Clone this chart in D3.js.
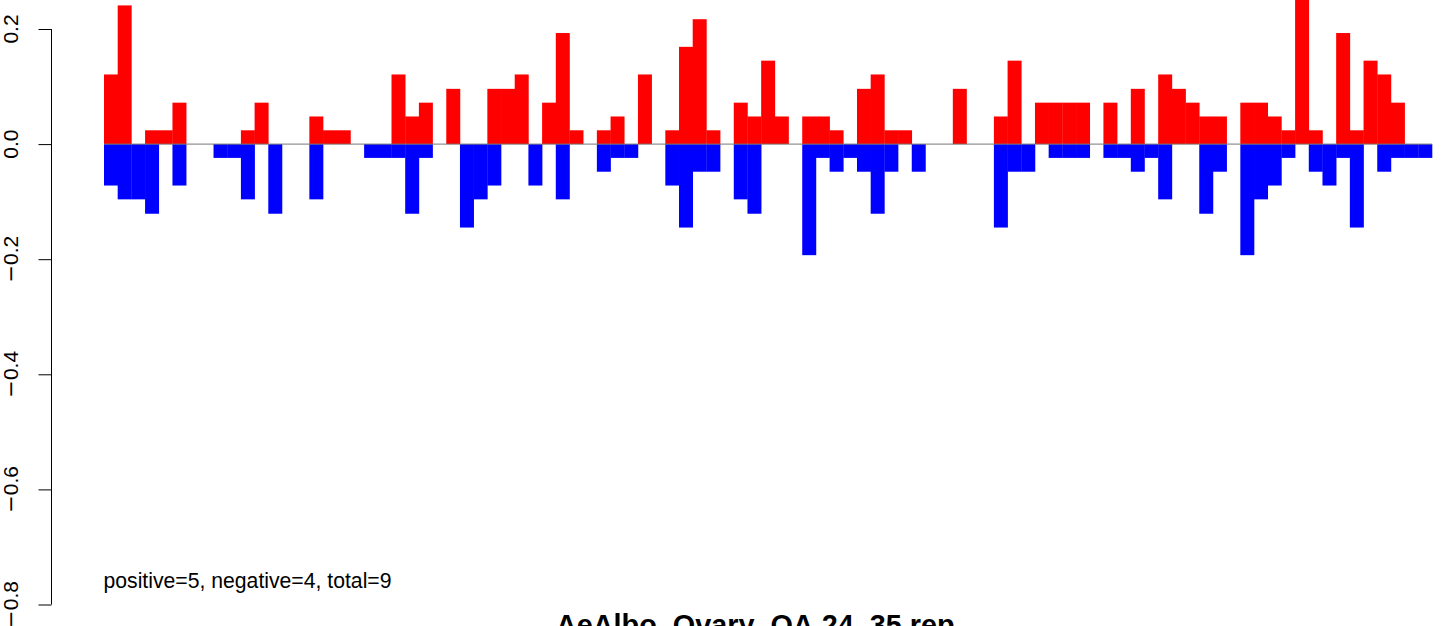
<!DOCTYPE html>
<html>
<head>
<meta charset="utf-8">
<script src="https://cdn.jsdelivr.net/npm/d3@7"></script>
<style>
  html, body { margin: 0; padding: 0; background: #fff; }
  svg { display: block; }
  text { font-family: "Liberation Sans", Arial, Helvetica, sans-serif; }
</style>
</head>
<body>
<svg id="chart" width="1441" height="626"></svg>
<script>
// positions 1..97
const positions = d3.range(1, 98);
// positive (red) values per position
const positiveValues = [
  0.121, 0.241, 0, 0.024, 0.024, 0.072, 0, 0, 0, 0,
  0.024, 0.072, 0, 0, 0, 0.048, 0.024, 0.024, 0, 0,
  0, 0.121, 0.048, 0.072, 0, 0.096, 0, 0, 0.096, 0.096,
  0.121, 0, 0.072, 0.193, 0.024, 0, 0.024, 0.048, 0, 0.121,
  0, 0.024, 0.169, 0.217, 0.024, 0, 0.072, 0.048, 0.145, 0.048,
  0, 0.048, 0.048, 0.024, 0, 0.096, 0.121, 0.024, 0.024, 0,
  0, 0, 0.096, 0, 0, 0.048, 0.145, 0, 0.072, 0.072,
  0.072, 0.072, 0, 0.072, 0, 0.096, 0, 0.121, 0.096, 0.072,
  0.048, 0.048, 0, 0.072, 0.072, 0.048, 0.024, 0.265, 0.024, 0,
  0.193, 0.024, 0.145, 0.121, 0.072, 0, 0
];
// negative (blue) values per position
const negativeValues = [
  -0.072, -0.096, -0.096, -0.121, 0, -0.072, 0, 0, -0.024, -0.024,
  -0.096, 0, -0.121, 0, 0, -0.096, 0, 0, 0, -0.024,
  -0.024, -0.024, -0.121, -0.024, 0, 0, -0.145, -0.096, -0.072, 0,
  0, -0.072, 0, -0.096, 0, 0, -0.048, -0.024, -0.024, 0,
  0, -0.072, -0.145, -0.048, -0.048, 0, -0.096, -0.121, 0, 0,
  0, -0.193, -0.024, -0.048, -0.024, -0.048, -0.121, -0.048, 0, -0.048,
  0, 0, 0, 0, 0, -0.145, -0.048, -0.048, 0, -0.024,
  -0.024, -0.024, 0, -0.024, -0.024, -0.048, -0.024, -0.096, 0, 0,
  -0.121, -0.048, 0, -0.193, -0.096, -0.072, -0.024, 0, -0.048, -0.072,
  -0.024, -0.145, 0, -0.048, -0.024, -0.024, -0.024
];
const yTicks = [-0.8, -0.6, -0.4, -0.2, 0.0, 0.2];
const yTickLabels = ["\u22120.8", "\u22120.6", "\u22120.4", "\u22120.2", "0.0", "0.2"];
const titleText = "AeAlbo_Ovary_OA.24_35.rep";
const countsText = "positive=5, negative=4, total=9";

const svg = d3.select("#chart");

const x = d3.scaleBand().domain(positions).range([104, 1432]).padding(0);
const y = d3.scaleLinear().domain([-0.8, 0.2]).range([604.5, 29]);

// positive bars
svg.append("g").selectAll("rect")
  .data(positions.map((p, i) => ({p, v: positiveValues[i]})).filter(d => d.v > 0))
  .join("rect")
  .attr("x", d => x(d.p))
  .attr("width", x.bandwidth() + 0.3)
  .attr("y", d => y(d.v))
  .attr("height", d => y(0) - y(d.v))
  .attr("fill", "#ff0000");

// negative bars
svg.append("g").selectAll("rect")
  .data(positions.map((p, i) => ({p, v: negativeValues[i]})).filter(d => d.v < 0))
  .join("rect")
  .attr("x", d => x(d.p))
  .attr("width", x.bandwidth() + 0.3)
  .attr("y", y(0))
  .attr("height", d => y(d.v) - y(0))
  .attr("fill", "#0000ff");

// zero line
svg.append("line")
  .attr("x1", 104).attr("x2", 1432)
  .attr("y1", y(0)).attr("y2", y(0))
  .attr("stroke", "#777777").attr("stroke-width", 1);

// y axis (ticks via d3 axis, labels drawn rotated)
const axis = d3.axisLeft(y).tickValues(yTicks).tickSize(13).tickSizeOuter(0).tickFormat("");
const gAxis = svg.append("g")
  .attr("transform", "translate(51.5,0)")
  .call(axis);
gAxis.select(".domain").remove();
gAxis.selectAll(".tick text").remove();
gAxis.append("line")
  .attr("x1", 0).attr("x2", 0)
  .attr("y1", y(0.2)).attr("y2", y(-0.8))
  .attr("stroke", "#000").attr("stroke-width", 1);
gAxis.selectAll(".tick line").attr("stroke", "#000").attr("stroke-width", 1);

const labs = svg.append("g")
  .style("font-size", "21px")
  .selectAll("text")
  .data(yTicks)
  .join("text")
  .attr("transform", d => `translate(18,${y(d)}) rotate(-90)`)
  .attr("text-anchor", "middle")
  .style("font-size", "21px")
  .attr("fill", "#000");
labs.each(function(d, i) {
  const t = d3.select(this);
  const s = yTickLabels[i];
  if (s.startsWith("\u2212")) {
    t.append("tspan").style("font-family", "'DejaVu Sans', sans-serif").text("\u2212");
    t.append("tspan").text(s.slice(1));
  } else {
    t.text(s);
  }
});

// counts text
svg.append("text")
  .attr("x", 103.5).attr("y", 587.5)
  .style("font-size", "21.2px")
  .attr("fill", "#000")
  .text(countsText);

// title
svg.append("text")
  .attr("x", 556).attr("y", 634.5)
  .style("font-size", "28.8px")
  .style("font-weight", "bold")
  .attr("fill", "#000")
  .text(titleText);
</script>
</body>
</html>
